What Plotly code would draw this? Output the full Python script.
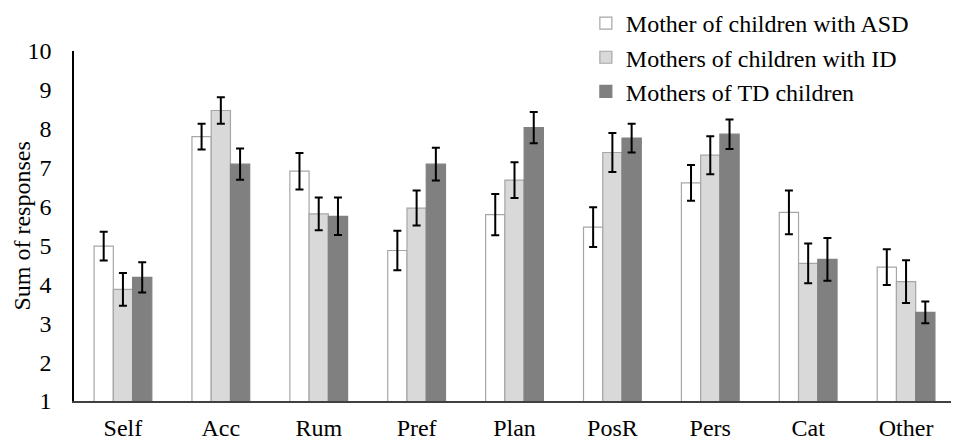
import plotly.graph_objects as go

categories = ["Self", "Acc", "Rum", "Pref", "Plan", "PosR", "Pers", "Cat", "Other"]
series_names = ["Mother of children with ASD", "Mothers of children with ID", "Mothers of TD children"]

asd_values = [4.98, 7.80, 6.91, 4.87, 5.79, 5.47, 6.61, 5.85, 4.44]
asd_errors = [0.37, 0.33, 0.47, 0.51, 0.53, 0.51, 0.46, 0.56, 0.46]
id_values = [3.87, 8.47, 5.81, 5.96, 6.68, 7.39, 7.32, 4.54, 4.07]
id_errors = [0.42, 0.34, 0.42, 0.45, 0.46, 0.50, 0.49, 0.51, 0.55]
td_values = [4.18, 7.09, 5.75, 7.09, 8.03, 7.76, 7.86, 4.64, 3.28]
td_errors = [0.39, 0.40, 0.48, 0.42, 0.40, 0.37, 0.38, 0.55, 0.28]

y_ticks = list(range(1, 11))

fills = ["#ffffff", "#d9d9d9", "#808080"]
outlines = ["#a6a6a6", "#a6a6a6", "#808080"]

fig = go.Figure()
for name, vals, errs, fc, lc in zip(series_names,
                                    [asd_values, id_values, td_values],
                                    [asd_errors, id_errors, td_errors],
                                    fills, outlines):
    fig.add_trace(go.Bar(
        x=categories, y=vals, name=name,
        marker=dict(color=fc, line=dict(color=lc, width=1.2)),
        error_y=dict(type="data", array=errs, visible=True,
                     color="#000000", thickness=2, width=4),
    ))

font_family = "Liberation Serif, Times New Roman, serif"
# the page body adds an 8px margin, so the figure is 8px smaller on each axis
fig.update_layout(
    width=951, height=432,
    margin=dict(l=66, r=4, t=43, b=39, autoexpand=False),
    paper_bgcolor="white", plot_bgcolor="white",
    barmode="group", bargap=0.41, bargroupgap=0,
    font=dict(family=font_family, size=24, color="#000000"),
    showlegend=True,
    legend=dict(x=0.581, y=1.143, xanchor="left", yanchor="top",
                bgcolor="rgba(0,0,0,0)", font=dict(size=24),
                tracegroupgap=0),
    xaxis=dict(showline=True, linecolor="#404040", linewidth=1.5,
               ticks="", showgrid=False, tickfont=dict(size=24),
               ticklabelstandoff=4, automargin=False),
    yaxis=dict(range=[1, 10], tickvals=y_ticks, showline=True,
               linecolor="#000000", linewidth=1.5, ticks="",
               showgrid=False, zeroline=False, tickfont=dict(size=24),
               ticklabelstandoff=16, automargin=False),
    annotations=[dict(text="Sum of responses", textangle=-90,
                      xref="paper", yref="paper", x=-0.0595, y=0.5,
                      xanchor="center", yanchor="middle",
                      showarrow=False, font=dict(size=24))],
)

fig.write_html("out.html")
